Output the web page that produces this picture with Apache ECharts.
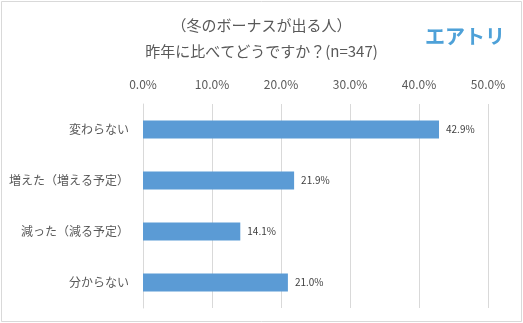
<!DOCTYPE html>
<html><head><meta charset="utf-8">
<script src="https://cdn.jsdelivr.net/npm/echarts@6/dist/echarts.min.js"></script>
<style>html,body{margin:0;padding:0;background:#fff}#c{width:523px;height:323px}</style>
</head><body><div id="c"></div>
<script>
const categories = ['変わらない', '増えた（増える予定）', '減った（減る予定）', '分からない'];
const values = [42.9, 21.9, 14.1, 21.0];
const titleLine1 = '（冬のボーナスが出る人）';
const titleLine2 = '昨年に比べてどうですか？(n=347)';
const logoText = 'エアトリ';

const font = '"Noto Sans CJK JP", "Noto Sans", sans-serif';
const chart = echarts.init(document.getElementById('c'), null, {renderer: 'canvas'});
chart.setOption({
  animation: false,
  backgroundColor: '#fff',
  graphic: [
    {type: 'rect', shape: {x: 1.5, y: 1.5, width: 520, height: 320}, style: {fill: 'none', stroke: '#d9d9d9', lineWidth: 1}},
    {type: 'text', left: 'center', top: 18, style: {text: titleLine1, font: '15px ' + font, fill: '#595959'}},
    {type: 'text', left: 'center', top: 44, style: {text: titleLine2, font: '15px ' + font, fill: '#595959'}},
    {type: 'text', right: 18, top: 26, style: {text: logoText, font: 'bold 20px ' + font, fill: '#4ea1d8'}}
  ],
  grid: {left: 143, right: 35, top: 104, bottom: 15, containLabel: false},
  xAxis: {
    type: 'value', position: 'top', min: 0, max: 50, interval: 10,
    axisLabel: {formatter: v => v.toFixed(1) + '%', color: '#595959', fontSize: 12, fontFamily: font, margin: 14},
    axisLine: {show: false}, axisTick: {show: false},
    splitLine: {show: true, lineStyle: {color: '#d9d9d9', width: 1}}
  },
  yAxis: {
    type: 'category', data: categories, inverse: true,
    axisLine: {show: true, lineStyle: {color: '#d9d9d9'}}, axisTick: {show: false},
    axisLabel: {color: '#595959', fontSize: 12, fontFamily: font, margin: 14}
  },
  series: [{
    type: 'bar', data: values, barWidth: 18,
    itemStyle: {color: '#5b9bd5'},
    label: {show: true, position: 'right', distance: 7, formatter: p => p.value.toFixed(1) + '%', color: '#404040', fontSize: 10, fontFamily: font}
  }]
});
</script></body></html>
